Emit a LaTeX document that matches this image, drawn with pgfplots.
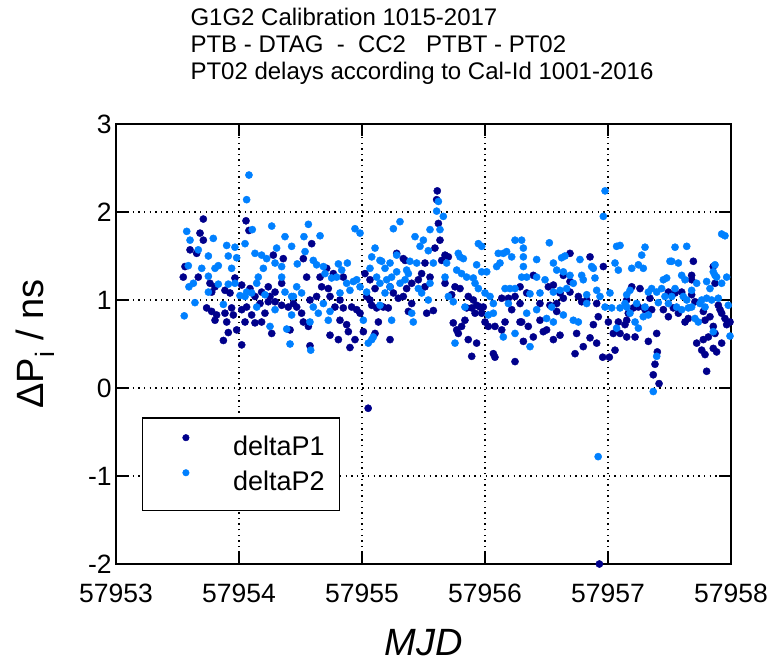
\documentclass[border=0pt]{standalone}
\usepackage{fontspec}
\setmainfont{Liberation Sans}
\usepackage{pgfplots}
\pgfplotsset{compat=1.18}
\definecolor{pone}{HTML}{00008B}
\definecolor{ptwo}{HTML}{0080FF}
\begin{document}
\begin{tikzpicture}
\useasboundingbox (0pt,0pt) rectangle (771pt,664pt);
\node[anchor=base west, font=\fontsize{24}{28}\selectfont] at (187pt,638pt) {G1G2 Calibration 1015-2017};
\node[anchor=base west, font=\fontsize{24}{28}\selectfont] at (187pt,611pt) {PTB - DTAG\ \ -\ \ CC2\ \ \ PTBT - PT02};
\node[anchor=base west, font=\fontsize{24}{28}\selectfont] at (187pt,584pt) {PT02 delays according to Cal-Id 1001-2016};
\begin{axis}[
  at={(116pt,100pt)}, anchor=south west,
  scale only axis, width=615pt, height=440pt,
  xmin=57953, xmax=57958, ymin=-2, ymax=3,
  xtick={57953,57954,57955,57956,57957,57958},
  xticklabels={57953,57954,57955,57956,57957,57958},
  ytick={-2,-1,0,1,2,3},
  yticklabels={-2,-1,0,1,2,3},
  scaled x ticks=false,
  every axis/.append style={line width=2pt},
  tick align=inside,
  major tick length=12pt,
  tick style={black, line width=2pt},
  axis line style={black, line width=2pt},
  ticklabel style={font=\fontsize{26.5}{30}\selectfont},
  xticklabel style={yshift=-16pt},
  grid=major,
  major grid style={black, line width=1.4pt, dash pattern=on 1.4pt off 4.2pt},
  xlabel={\textit{MJD}},
  ylabel={ΔP\textsubscript{i} / ns},
  every axis x label/.style={at={(axis description cs:0.5,0)}, yshift=-91pt, anchor=base, inner sep=0pt, font=\fontsize{38}{42}\selectfont},
  every axis y label/.style={at={(axis description cs:0,0.5)}, xshift=-72pt, anchor=base, rotate=90, font=\fontsize{38}{42}\selectfont},
  legend style={at={(axis description cs:0.0423,0.1205)}, anchor=south west,
    draw=black, line width=1.4pt, inner xsep=6pt, inner ysep=16pt, row sep=10pt,
    font=\fontsize{27}{30}\selectfont, nodes={inner xsep=9pt, inner ysep=2pt}},
  legend image code/.code={\path (0pt,0pt) (75pt,9pt); \draw[#1, mark size=3.3pt] plot coordinates {(37pt,9pt)};},
  clip=false,
]
\addplot[only marks, mark=*, mark size=3.6pt, line width=0.4pt, color=pone] coordinates {
(57953.710,1.92)(57954.057,1.90)(57954.081,1.79)(57953.683,1.76)(57953.602,1.57)(57953.656,1.53)(57953.710,1.68)(57953.561,1.38)(57953.547,1.26)(57953.669,1.26)(57953.764,1.19)(57953.805,1.15)(57953.967,1.25)(57954.022,1.17)(57953.886,1.11)(57953.927,1.08)(57953.778,1.09)(57954.089,1.13)(57954.130,1.04)(57954.184,1.09)(57954.238,1.15)(57954.293,1.09)(57954.347,1.19)(57954.279,1.51)(57954.360,1.47)(57953.737,0.91)(57953.778,0.87)(57953.818,0.83)(57953.805,0.77)(57953.886,0.85)(57953.940,0.91)(57953.954,0.83)(57954.022,0.89)(57954.062,0.92)(57954.171,0.96)(57954.238,0.98)(57954.293,0.98)(57954.347,0.94)(57954.401,0.92)(57953.900,0.75)(57953.981,0.66)(57953.913,0.63)(57953.873,0.54)(57954.022,0.49)(57954.049,0.75)(57954.130,0.74)(57954.103,0.83)(57954.211,0.85)(57954.266,0.62)(57954.184,0.75)(57954.252,1.04)
(57954.591,1.64)(57954.523,1.47)(57954.550,1.26)(57954.659,1.26)(57954.713,1.36)(57954.767,1.30)(57954.848,1.26)(57954.672,1.15)(57954.726,1.13)(57954.740,1.04)(57954.821,1.00)(57954.631,1.04)(57954.577,1.00)(57954.469,0.92)(57954.509,0.85)(57954.442,0.96)(57954.523,0.75)(57954.415,0.66)(57954.564,0.70)(57954.780,0.92)(57954.848,0.91)(57954.916,0.92)(57954.957,0.89)(57954.984,0.85)(57954.821,0.77)(57954.875,0.72)(57954.889,0.64)(57955.011,0.64)(57954.943,0.55)(57954.902,0.46)(57954.740,0.60)(57954.808,0.55)(57954.577,0.48)(57955.024,1.30)(57955.065,1.23)(57955.106,1.13)(57955.079,0.94)(57955.119,0.91)(57955.173,0.92)(57955.214,0.91)(57955.133,0.75)(57955.065,1.00)(57955.038,1.04)(57955.228,1.15)(57955.255,1.08)(57955.295,1.02)(57955.336,1.04)(57955.282,1.53)(57955.336,1.47)(57955.228,0.55)(57955.106,0.62)(57955.050,-0.23)
(57955.612,2.24)(57955.607,2.14)(57955.621,1.87)(57955.634,1.68)(57955.593,1.59)(57955.675,1.51)(57955.702,1.49)(57955.648,1.45)(57955.512,1.42)(57955.350,1.45)(57955.485,1.30)(57955.553,1.26)(57955.458,1.23)(57955.404,1.19)(57955.363,1.13)(57955.512,1.15)(57955.675,1.19)(57955.756,1.15)(57955.797,1.13)(57955.729,1.06)(57955.864,1.04)(57955.905,1.00)(57955.932,0.94)(57955.959,0.92)(57955.892,0.91)(57955.851,0.91)(57955.919,0.85)(57955.973,0.85)(57955.837,0.77)(57955.810,0.70)(57955.742,0.74)(57955.770,0.66)(57955.783,0.62)(57955.864,0.55)(57955.932,0.51)(57955.892,0.36)(57956.068,0.39)(57956.081,0.35)(57956.244,0.30)(57956.027,0.70)(57956.081,0.70)(57956.136,0.66)(57956.163,0.75)(57956.136,1.02)(57956.190,1.02)(57956.244,1.04)(57956.217,0.89)(57956.285,0.96)(57955.377,0.87)(57955.404,0.96)(57955.526,0.85)(57955.580,0.88)(57956.285,0.75)(57956.000,0.75)(57955.986,0.92)
(57956.691,1.53)(57956.854,1.49)(57956.962,1.38)(57956.393,1.28)(57956.637,1.28)(57956.691,1.21)(57956.556,1.17)(57956.515,1.15)(57956.610,1.08)(57956.691,1.09)(57956.759,1.04)(57956.285,1.15)(57956.339,1.08)(57956.447,0.96)(57956.528,0.94)(57956.583,0.96)(57956.637,1.02)(57956.786,0.98)(57956.827,1.00)(57956.908,0.96)(57956.583,0.87)(57956.298,0.75)(57956.352,0.70)(57956.393,0.58)(57956.447,0.77)(57956.501,0.66)(57956.474,0.64)(57956.556,0.55)(57956.610,0.60)(57956.745,0.62)(57956.799,0.47)(57956.854,0.57)(57956.908,0.51)(57956.881,0.72)(57956.921,0.81)(57956.732,0.39)(57956.957,0.35)(57957.011,0.35)(57957.003,0.75)(57957.043,0.62)(57957.098,0.62)(57957.084,0.75)(57957.057,0.43)(57957.152,0.58)(57956.312,0.53)(57957.152,0.77)(57956.930,-2.00)
(57957.694,1.44)(57957.856,1.38)(57957.870,1.19)(57957.680,1.28)(57957.680,1.23)(57957.260,1.13)(57957.193,1.15)(57957.491,1.09)(57957.545,1.08)(57957.599,1.09)(57957.680,1.06)(57957.707,0.98)(57957.152,1.00)(57957.206,0.91)(57957.247,0.92)(57957.301,0.89)(57957.341,1.02)(57957.355,0.89)(57957.450,0.89)(57957.531,0.91)(57957.572,0.85)(57957.491,0.81)(57957.626,0.75)(57957.653,0.79)(57957.775,0.87)(57957.789,0.77)(57957.829,0.81)(57957.897,0.94)(57957.924,0.85)(57957.951,0.79)(57957.965,0.72)(57957.992,0.75)(57957.911,0.89)(57957.138,0.72)(57957.220,0.58)(57957.328,0.53)(57957.396,0.62)(57957.721,0.51)(57957.775,0.55)(57957.816,0.58)(57957.762,0.43)(57957.789,0.38)(57957.856,0.45)(57957.883,0.41)(57957.870,0.62)(57957.924,0.51)(57957.856,0.70)(57957.165,0.85)(57957.401,0.41)(57957.382,0.27)(57957.368,0.15)(57957.415,0.05)(57957.802,0.19)
};
\addlegendentry{deltaP1}
\addplot[only marks, mark=*, mark size=3.6pt, line width=0.4pt, color=ptwo] coordinates {
(57954.081,2.42)(57954.062,2.14)(57954.266,1.84)(57954.108,1.80)(57953.575,1.78)(57953.602,1.68)(57953.791,1.70)(57953.900,1.62)(57953.967,1.60)(57954.049,1.64)(57954.374,1.72)(57954.428,1.61)(57953.669,1.57)(57953.751,1.50)(57953.913,1.50)(57953.981,1.48)(57953.805,1.36)(57953.832,1.39)(57953.940,1.36)(57953.588,1.39)(57953.697,1.36)(57953.629,1.19)(57953.593,1.15)(57953.751,1.27)(57954.130,1.53)(57954.184,1.51)(57954.225,1.47)(57954.198,1.36)(57954.306,1.59)(57954.293,1.42)(57954.347,1.38)(57954.157,1.26)(57954.144,1.19)(57954.347,1.26)(57953.832,1.18)(57953.913,1.18)(57953.967,1.19)(57954.062,1.09)(57954.103,1.08)(57954.008,1.05)(57954.049,1.04)(57953.751,1.09)(57953.642,0.97)(57953.555,0.82)(57953.873,0.95)(57954.211,1.06)(57954.144,0.92)(57954.374,1.09)(57954.428,1.04)(57954.252,0.70)(57954.388,0.67)(57954.415,0.50)(57954.293,0.89)
(57954.564,1.86)(57954.528,1.72)(57954.659,1.73)(57954.537,1.55)(57954.474,1.41)(57954.604,1.45)(57954.631,1.40)(57954.686,1.38)(57954.699,1.30)(57954.808,1.41)(57954.881,1.42)(57954.835,1.34)(57954.794,1.26)(57954.753,1.25)(57954.943,1.81)(57954.984,1.76)(57954.875,1.19)(57954.930,1.21)(57954.957,1.23)(57954.984,1.15)(57954.902,1.11)(57954.821,1.08)(57954.469,1.15)(57954.509,1.08)(57954.442,1.04)(57954.604,0.92)(57954.686,0.96)(57954.645,0.85)(57954.740,0.87)(57954.726,0.77)(57954.577,0.75)(57954.428,0.83)(57954.583,0.43)(57955.011,0.77)(57955.038,1.09)(57955.079,1.49)(57955.106,1.59)(57955.065,1.36)(57955.119,1.26)(57955.160,1.44)(57955.187,1.36)(57955.228,1.42)(57955.146,1.19)(57955.201,1.23)(57955.241,1.26)(57955.282,1.51)(57955.309,1.89)(57955.255,1.81)(57955.282,1.32)(57955.350,1.23)(57955.228,1.15)(57955.187,1.08)(57955.241,0.77)(57955.146,0.94)(57955.079,0.55)(57955.051,0.51)(57955.092,0.58)(57955.309,1.19)(57955.363,1.34)(57955.146,1.45)
(57955.621,2.12)(57955.607,2.01)(57955.661,1.95)(57955.553,1.80)(57955.634,1.80)(57955.431,1.72)(57955.499,1.68)(57955.472,1.61)(57955.539,1.56)(57955.580,1.42)(57955.390,1.44)(57955.445,1.42)(57955.377,1.30)(57955.458,1.13)(57955.553,1.19)(57955.485,1.08)(57955.417,0.75)(57955.404,0.85)(57955.539,1.00)(57955.688,1.42)(57955.675,1.26)(57955.783,1.53)(57955.797,1.49)(57955.824,1.47)(57955.770,1.34)(57955.810,1.30)(57955.851,1.26)(57955.905,1.25)(57955.932,1.40)(57955.946,1.64)(57955.973,1.61)(57955.973,1.32)(57956.014,1.32)(57955.919,1.19)(57955.946,1.13)(57956.000,1.08)(57956.041,1.04)(57956.068,0.96)(57956.095,1.38)(57956.122,1.42)(57956.149,1.53)(57956.176,1.55)(57956.108,1.53)(57956.217,1.49)(57956.244,1.68)(57956.312,1.59)(57956.298,1.26)(57956.163,1.13)(57956.203,1.13)(57956.244,1.13)(57956.190,0.96)(57956.068,0.85)(57956.027,0.83)(57956.244,0.62)(57956.149,0.58)(57955.756,0.51)(57955.837,0.92)(57955.742,0.98)(57955.702,1.04)
(57956.976,2.24)(57956.962,1.95)(57956.523,1.65)(57956.312,1.49)(57956.420,1.46)(57956.556,1.42)(57956.623,1.48)(57956.650,1.50)(57956.772,1.46)(57956.867,1.38)(57956.881,1.36)(57957.070,1.61)(57957.098,1.62)(57957.057,1.42)(57957.084,1.34)(57956.339,1.26)(57956.420,1.26)(57956.488,1.23)(57956.583,1.34)(57956.637,1.32)(57956.691,1.28)(57956.786,1.28)(57956.799,1.23)(57956.894,1.25)(57956.447,1.08)(57956.366,1.07)(57956.556,1.09)(57956.610,1.11)(57956.664,1.13)(57956.718,1.19)(57956.827,1.06)(57956.908,1.11)(57957.016,1.08)(57957.030,0.91)(57957.098,0.91)(57957.152,0.92)(57956.339,0.85)(57956.420,0.89)(57956.501,0.79)(57956.556,0.75)(57956.637,0.83)(57956.718,0.77)(57956.759,0.75)(57956.542,0.92)(57956.827,0.96)(57956.366,0.47)(57956.935,1.04)(57956.976,0.92)(57957.070,0.68)(57956.312,1.38)(57956.298,1.68)(57956.920,-0.78)
(57957.924,1.75)(57957.951,1.73)(57957.301,1.60)(57957.274,1.51)(57957.545,1.60)(57957.640,1.61)(57957.247,1.40)(57957.193,1.36)(57957.287,1.36)(57957.518,1.44)(57957.572,1.42)(57957.870,1.40)(57957.856,1.32)(57957.965,1.26)(57957.883,1.26)(57957.802,1.21)(57957.829,1.13)(57957.924,1.19)(57957.477,1.25)(57957.450,1.23)(57957.599,1.28)(57957.626,1.23)(57957.355,1.13)(57957.396,1.09)(57957.328,1.09)(57957.179,1.11)(57957.152,1.06)(57957.436,1.13)(57957.545,1.13)(57957.680,1.11)(57957.721,1.19)(57957.463,1.04)(57957.518,1.04)(57957.612,1.04)(57957.640,1.00)(57957.762,1.00)(57957.802,1.02)(57957.843,1.00)(57957.138,0.96)(57957.233,0.96)(57957.301,0.92)(57957.409,0.97)(57957.491,0.96)(57957.558,0.92)(57957.599,0.89)(57957.680,0.92)(57957.748,0.96)(57957.789,0.92)(57957.897,1.02)(57957.978,0.94)(57957.179,0.85)(57957.328,0.83)(57957.287,0.81)(57957.220,0.75)(57957.247,0.68)(57957.653,0.91)(57957.707,0.79)(57957.734,0.75)(57957.856,0.64)(57957.396,0.36)(57957.368,-0.04)(57957.992,0.59)(57957.504,1.44)(57957.870,1.28)
};
\addlegendentry{deltaP2}
\end{axis}
\end{tikzpicture}
\end{document}
